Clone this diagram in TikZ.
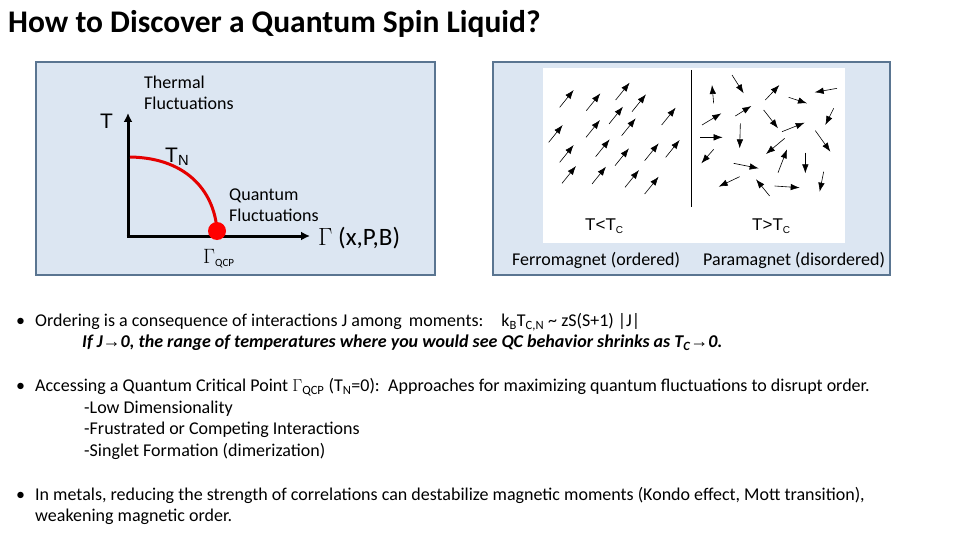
\documentclass[tikz,border=0pt]{standalone}
\usepackage{fontspec}
\usetikzlibrary{arrows.meta}
\setmainfont{Carlito}
\newfontfamily\arialf{Liberation Sans}
\definecolor{panelfill}{HTML}{DCE6F2}
\definecolor{paneldraw}{HTML}{5A7591}
\begin{document}
\begin{tikzpicture}[x=1pt,y=-1pt,
 panel/.style={draw=paneldraw,line width=1.5pt,fill=panelfill},
 spin/.style={-{Latex[length=9pt,width=6.5pt]},line width=0.6pt},
 txt/.style={inner sep=0,anchor=west,font=\fontsize{18}{21.5}\selectfont}]
\useasboundingbox (0,0) rectangle (960,540);
\node[inner sep=0,anchor=west,font=\bfseries\fontsize{31.5}{34}\selectfont] (title) at (8,24) {How to Discover a Quantum Spin Liquid?};
% left panel
\draw[panel] (36,62) rectangle (435,275);
\coordinate (o) at (128,236);
\coordinate (ytop) at (128,113);
\coordinate (xend) at (310,236);
\draw[line width=3pt,-{Latex[length=9pt,width=9pt]}] (o) -- (ytop);
\draw[line width=3pt,-{Latex[length=9pt,width=9pt]}] ([xshift=-1.5pt]o) -- (xend);
\draw[red!90!black,line width=3pt] (130,157) .. controls (190,158) and (215,195) .. (217,231);
\fill[red] (217,231) circle (9);
\node[txt,font=\arialf\fontsize{21}{24}\selectfont] (T) at (100,121) {T};
\node[txt,align=left] (thermal) at (144,93) {Thermal\\Fluctuations};
\node[txt,font=\arialf\fontsize{21}{24}\selectfont] (TN) at (165,157) {T\textsubscript{N}};
\node[txt,align=left] (quant) at (229,205) {Quantum\\Fluctuations};
\node[txt,font=\fontsize{25}{28}\selectfont] (gam) at (318,238) {$\Gamma$ (x,P,B)};
\node[txt,font=\fontsize{20}{22}\selectfont] (gqcp) at (203,259) {$\Gamma$\textsubscript{\fontsize{11}{12}\selectfont QCP}};
% right panel
\draw[panel] (493,62) rectangle (890,275);
\fill[white] (543,68) rectangle (845,243);
\draw[line width=0.8pt] (691,70) -- (691,207);
\node[txt,font=\arialf\fontsize{17}{20}\selectfont] (tl) at (585,226) {T<T\textsubscript{\fontsize{10}{11}\selectfont C}};
\node[txt,font=\arialf\fontsize{17}{20}\selectfont] (tr) at (752,226) {T>T\textsubscript{\fontsize{10}{11}\selectfont C}};
\node[txt] (ferro) at (512,260) {Ferromagnet (ordered)};
\node[txt] (para) at (703,260) {Paramagnet (disordered)};
\foreach \x/\y in {245/90,325/100,413/68,462/103,551/143,324/180,431/175,212/195,353/238,245/255,411/265,500/250,563/240,252/318,342/320,441/330,500/350,393/140}
  \draw[spin] ({492+(\x-42)/3},{60+(\y+52)/3}) -- ({492+\x/3},{60+\y/3});
\foreach \a/\b/\c/\d in {665/130/660/75,720/45/755/100,820/120/862/75,890/112/945/130,1035/85/968/97,630/195/688/160,730/168/778/138,815/150/858/205,1025/145/1000/195,625/232/692/232,745/190/743/265,870/215/938/188,970/212/1015/275,878/235/822/282,665/268/628/310,858/338/885/268,940/278/940/340,725/310/800/325,743/350/680/380,833/408/792/358,848/378/923/383,995/335/983/395}
  \draw[spin] ({492+\a/3},{60+\b/3}) -- ({492+\c/3},{60+\d/3});
% bullets
\node[txt] (b1) at (16,322) {•\hspace{10pt}Ordering is a consequence of interactions J among\, moments:\quad k\textsubscript{B}T\textsubscript{C,N} \textasciitilde{} zS(S+1) |J|};
\node[txt] (b1b) at (82,343) {\bfseries\itshape If J{\arialf\bfseries→}0, the range of temperatures where you would see QC behavior shrinks as T\textsubscript{C}{\arialf\bfseries→}0.};
\node[txt] (b2) at (16,387) {•\hspace{10pt}Accessing a Quantum Critical Point $\Gamma$\textsubscript{QCP} (T\textsubscript{N}=0):\, Approaches for maximizing quantum fluctuations to disrupt order.};
\node[txt,align=left] (b2b) at (84,430) {-Low Dimensionality\\-Frustrated or Competing Interactions\\-Singlet Formation (dimerization)};
\node[txt,align=left] (b3) at (16,506) {•\hspace{10pt}In metals, reducing the strength of correlations can destabilize magnetic moments (Kondo effect, Mott transition),\\\hspace{19pt}weakening magnetic order.};
\end{tikzpicture}
\end{document}
